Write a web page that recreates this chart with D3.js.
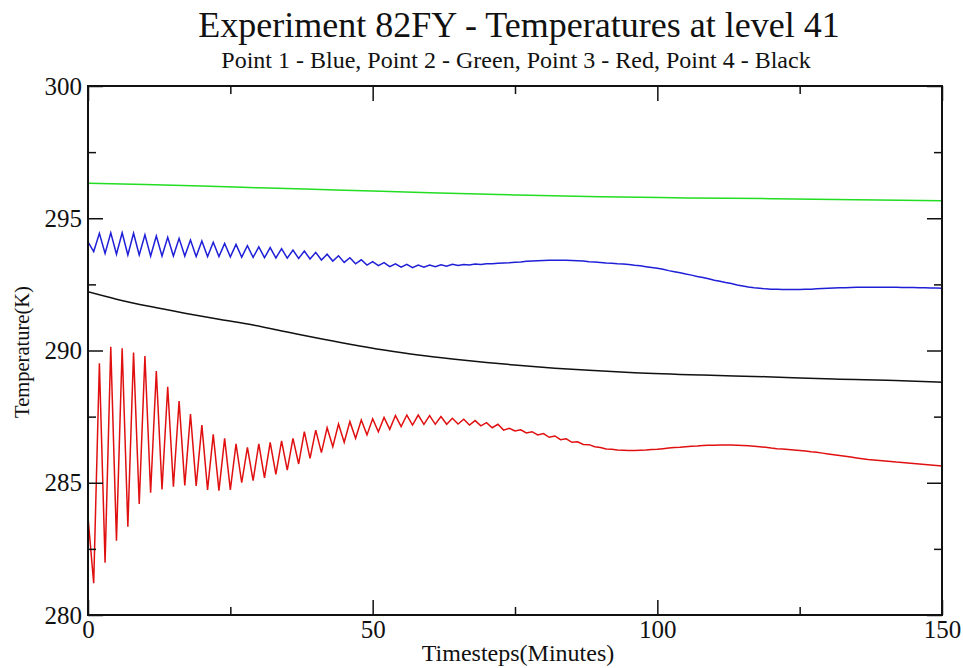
<!DOCTYPE html>
<html><head><meta charset="utf-8">
<script src="https://cdn.jsdelivr.net/npm/d3@7"></script>
<style>
html,body{margin:0;padding:0;background:#fff;}
svg{display:block;}
</style></head>
<body>
<svg id="chart" width="963" height="668"></svg>
<script>
// ---- data ----
const timesteps = [0,1,2,3,4,5,6,7,8,9,10,11,12,13,14,15,16,17,18,19,20,21,22,23,24,25,26,27,28,29,30,31,32,33,34,35,36,37,38,39,40,41,42,43,44,45,46,47,48,49,50,51,52,53,54,55,56,57,58,59,60,61,62,63,64,65,66,67,68,69,70,71,72,73,74,75,76,77,78,79,80,81,82,83,84,85,86,87,88,89,90,91,92,93,94,95,96,97,98,99,100,101,102,103,104,105,106,107,108,109,110,111,112,113,114,115,116,117,118,119,120,121,122,123,124,125,126,127,128,129,130,131,132,133,134,135,136,137,138,139,140,141,142,143,144,145,146,147,148,149,150];

// Point 1 - Blue
const point1Blue = [294.11,293.74,294.43,293.67,294.45,293.64,294.45,293.61,294.43,293.61,
 294.37,293.57,294.33,293.57,294.28,293.57,294.24,293.57,294.18,293.55,
 294.14,293.55,294.09,293.55,294.05,293.54,294.01,293.53,293.96,293.52,
 293.92,293.51,293.89,293.50,293.85,293.49,293.80,293.48,293.76,293.46,
 293.71,293.42,293.64,293.38,293.58,293.33,293.51,293.28,293.43,293.23,
 293.36,293.21,293.32,293.17,293.28,293.15,293.26,293.13,293.23,293.15,
 293.23,293.17,293.24,293.19,293.26,293.21,293.25,293.23,293.27,293.25,
 293.28,293.28,293.30,293.31,293.32,293.34,293.35,293.37,293.38,293.39,
 293.40,293.41,293.41,293.41,293.41,293.40,293.39,293.38,293.36,293.35,
 293.33,293.31,293.30,293.28,293.27,293.25,293.22,293.20,293.17,293.14,
 293.11,293.07,293.02,292.98,292.94,292.89,292.85,292.80,292.76,292.71,
 292.66,292.62,292.57,292.53,292.48,292.44,292.40,292.37,292.35,292.33,
 292.32,292.32,292.31,292.31,292.31,292.31,292.32,292.32,292.33,292.34,
 292.35,292.36,292.37,292.37,292.38,292.39,292.39,292.39,292.39,292.39,
 292.39,292.39,292.39,292.38,292.38,292.38,292.37,292.37,292.36,292.36,
 292.35];

// Point 2 - Green
const point2GreenT = [0,10,20,30,45,60,75,90,105,120,135,150];
const point2Green  = [296.32,296.28,296.22,296.15,296.06,295.96,295.88,295.81,295.77,295.74,295.70,295.66];

// Point 3 - Red
const point3Red = [283.70,281.20,289.52,281.98,290.14,282.81,290.08,283.34,289.92,284.20,
 289.79,284.62,289.22,284.75,288.63,284.85,288.09,284.90,287.60,284.88,
 287.18,284.73,286.83,284.70,286.68,284.73,286.47,285.00,286.34,285.08,
 286.47,285.18,286.53,285.32,286.58,285.48,286.68,285.71,286.93,285.92,
 286.99,286.14,287.08,286.36,287.22,286.53,287.31,286.68,287.37,286.81,
 287.42,286.93,287.47,287.02,287.54,287.12,287.56,287.18,287.56,287.21,
 287.54,287.21,287.50,287.21,287.44,287.22,287.40,287.18,287.35,287.15,
 287.27,287.08,287.21,286.99,287.06,286.96,287.00,286.88,286.93,286.81,
 286.86,286.72,286.77,286.63,286.66,286.53,286.55,286.45,286.44,286.36,
 286.33,286.28,286.27,286.24,286.23,286.22,286.22,286.23,286.24,286.26,
 286.27,286.29,286.31,286.33,286.34,286.36,286.38,286.39,286.41,286.42,
 286.42,286.43,286.43,286.43,286.42,286.41,286.40,286.38,286.36,286.34,
 286.31,286.29,286.28,286.26,286.24,286.22,286.20,286.17,286.15,286.12,
 286.09,286.06,286.03,286.00,285.97,285.94,285.91,285.88,285.86,285.84,
 285.82,285.80,285.78,285.77,285.75,285.73,285.71,285.69,285.67,285.65,
 285.63];

// Point 4 - Black
const point4BlackT = [0,5,11,17,23,29,35,40,46,52,58,64,70,76,82,88,96,108,119,131,143,150];
const point4Black  = [292.22,291.94,291.66,291.41,291.18,290.96,290.70,290.48,290.24,290.02,289.83,289.68,289.55,289.43,289.33,289.25,289.16,289.07,289.01,288.92,288.86,288.80];

const xMajorTicks = [0,50,100,150];
const xMinorTicks = [25,75,125];
const yMajorTicks = [280,285,290,295,300];
const yMinorTicks = [282.5,287.5,292.5,297.5];

const titleText = "Experiment 82FY - Temperatures at level 41";
const subtitleText = "Point 1 - Blue, Point 2 - Green, Point 3 - Red, Point 4 - Black";
const xLabel = "Timesteps(Minutes)";
const yLabel = "Temperature(K)";

// ---- drawing ----
const svg = d3.select("#chart");
const L = 88, R = 942, T = 86, B = 615;
const x = d3.scaleLinear().domain([0,150]).range([L,R]);
const y = d3.scaleLinear().domain([280,300]).range([B,T]);
const serif = "'Liberation Serif','DejaVu Serif',serif";

const line = d3.line().x(d => x(d[0])).y(d => y(d[1]));
const smooth = d3.line().x(d => x(d[0])).y(d => y(d[1])).curve(d3.curveMonotoneX);

const series = [
  {t: timesteps, v: point1Blue, c: "#1f1fd8", gen: line},
  {t: point2GreenT, v: point2Green, c: "#22dd22", gen: smooth},
  {t: timesteps, v: point3Red, c: "#e01010", gen: line},
  {t: point4BlackT, v: point4Black, c: "#111111", gen: smooth}
];
svg.append("clipPath").attr("id","pc").append("rect")
  .attr("x",L).attr("y",T).attr("width",R-L).attr("height",B-T);
const g = svg.append("g").attr("clip-path","url(#pc)");
series.forEach(s => {
  g.append("path")
    .datum(s.t.map((t,i) => [t, s.v[i]]))
    .attr("d", s.gen)
    .attr("fill","none")
    .attr("stroke", s.c)
    .attr("stroke-width",1.5)
    .attr("stroke-linejoin","miter");
});

function styleAxis(sel, fs){
  sel.select(".domain").remove();
  sel.selectAll(".tick line").attr("stroke","#111").attr("stroke-width",1.5);
  sel.selectAll(".tick text").attr("font-family",serif).attr("font-size",fs).attr("fill","#111");
}
// bottom
svg.append("g").attr("transform",`translate(0,${B})`)
  .call(d3.axisBottom(x).tickValues(xMajorTicks).tickSize(-15).tickPadding(5).tickFormat(d3.format("d")))
  .call(styleAxis, 25);
svg.append("g").attr("transform",`translate(0,${B})`)
  .call(d3.axisBottom(x).tickValues(xMinorTicks).tickSize(-8).tickFormat(""))
  .call(styleAxis, 25);
// top
svg.append("g").attr("transform",`translate(0,${T})`)
  .call(d3.axisTop(x).tickValues(xMajorTicks).tickSize(-15).tickFormat(""))
  .call(styleAxis, 25);
svg.append("g").attr("transform",`translate(0,${T})`)
  .call(d3.axisTop(x).tickValues(xMinorTicks).tickSize(-8).tickFormat(""))
  .call(styleAxis, 25);
// left
svg.append("g").attr("transform",`translate(${L},0)`)
  .call(d3.axisLeft(y).tickValues(yMajorTicks).tickSize(-15).tickPadding(6).tickFormat(d3.format("d")))
  .call(styleAxis, 25);
svg.append("g").attr("transform",`translate(${L},0)`)
  .call(d3.axisLeft(y).tickValues(yMinorTicks).tickSize(-8).tickFormat(""))
  .call(styleAxis, 25);
// right
svg.append("g").attr("transform",`translate(${R},0)`)
  .call(d3.axisRight(y).tickValues(yMajorTicks).tickSize(-15).tickFormat(""))
  .call(styleAxis, 25);
svg.append("g").attr("transform",`translate(${R},0)`)
  .call(d3.axisRight(y).tickValues(yMinorTicks).tickSize(-8).tickFormat(""))
  .call(styleAxis, 25);

// frame
svg.append("rect").attr("x",L).attr("y",T).attr("width",R-L).attr("height",B-T)
  .attr("fill","none").attr("stroke","#111").attr("stroke-width",2);

// titles
svg.append("text").attr("x",519).attr("y",37).attr("text-anchor","middle")
  .attr("font-family",serif).attr("font-size",36).attr("fill","#111").text(titleText);
svg.append("text").attr("x",516).attr("y",68).attr("text-anchor","middle")
  .attr("font-family",serif).attr("font-size",24).attr("fill","#111").text(subtitleText);
svg.append("text").attr("x",518).attr("y",661).attr("text-anchor","middle")
  .attr("font-family",serif).attr("font-size",24).attr("fill","#111").text(xLabel);
svg.append("text").attr("transform","translate(29,352) rotate(-90)").attr("text-anchor","middle")
  .attr("font-family",serif).attr("font-size",20.5).attr("fill","#111").text(yLabel);
</script>
</body></html>
